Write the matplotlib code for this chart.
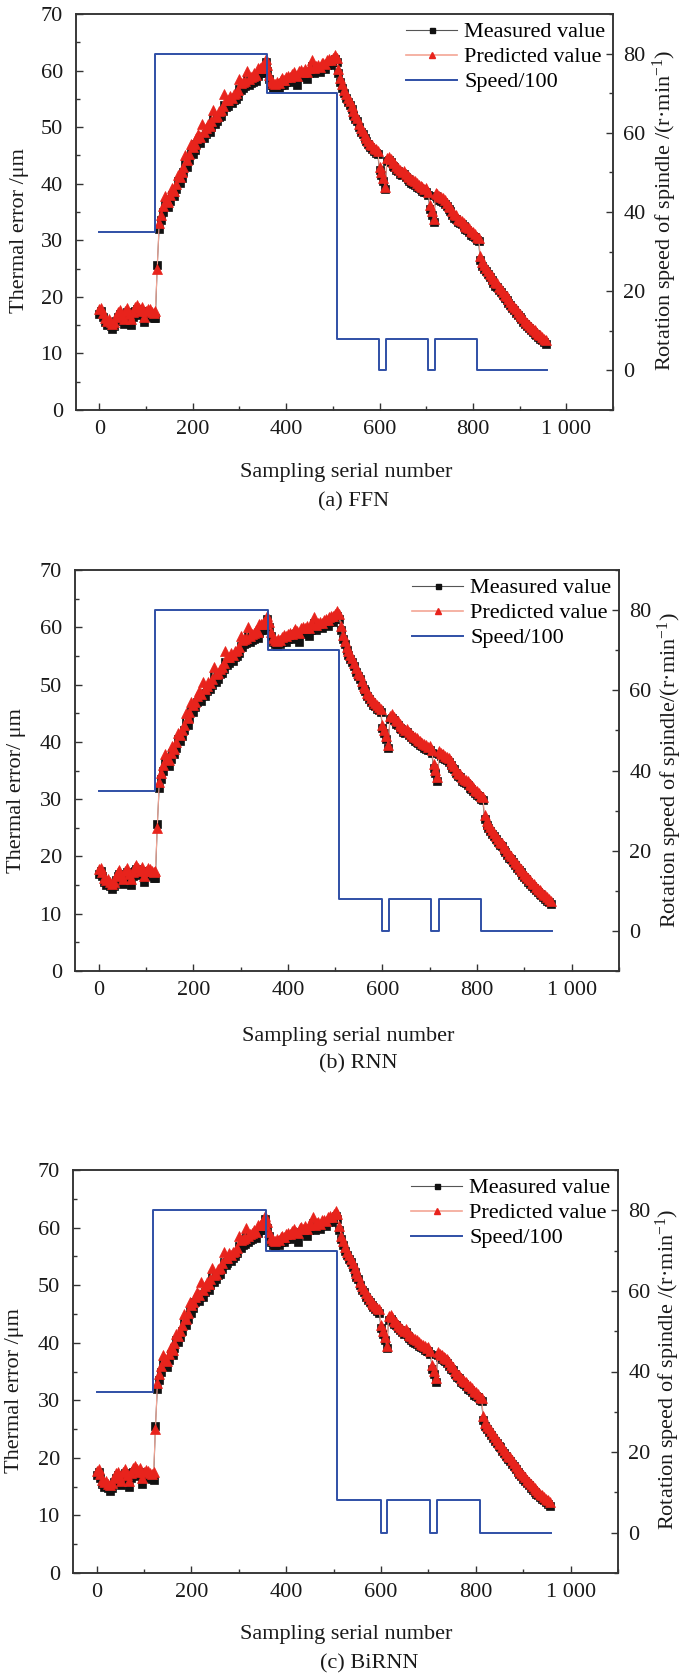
import numpy as np
import matplotlib
matplotlib.use('Agg')
import matplotlib.pyplot as plt
from matplotlib.ticker import MultipleLocator, FixedLocator
from matplotlib.lines import Line2D

plt.rcParams['font.family'] = ['Liberation Serif', 'DejaVu Serif']
plt.rcParams['mathtext.fontset'] = 'custom'
plt.rcParams['mathtext.rm'] = 'Liberation Serif'
plt.rcParams['mathtext.it'] = 'Liberation Serif:italic'
plt.rcParams['mathtext.bf'] = 'Liberation Serif:bold'

# ---------------- data ----------------
sample_no = list(range(0, 960, 4))

measured = [
    17.0, 17.5, 16.5, 15.5, 15.0, 15.2, 14.8, 14.3, 14.8, 15.8,
    16.5, 17.0, 16.0, 15.2, 16.8, 17.3, 16.2, 15.0, 16.5, 17.5,
    17.8, 17.2, 16.8, 17.5, 15.5, 16.8, 17.2, 17.0, 16.5, 16.3,
    16.2, 25.6, 32.0, 33.5, 35.0, 36.5, 36.0, 35.8, 37.0, 38.0,
    37.8, 39.0, 40.5, 40.2, 41.0, 42.0, 43.5, 43.0, 44.2, 45.5,
    45.2, 46.0, 47.0, 47.5, 47.2, 48.5, 48.0, 48.8, 49.5, 49.2,
    50.0, 51.5, 50.5, 51.0, 51.8, 52.0, 52.8, 54.0, 53.5, 53.8,
    54.5, 54.2, 54.8, 55.0, 55.5, 56.8, 56.5, 57.0, 57.2, 58.5,
    57.5, 57.8, 58.0, 58.5, 58.2, 59.0, 59.5, 59.8, 59.5, 61.5,
    60.0, 58.5, 57.5, 57.0, 56.8, 57.2, 57.0, 57.5, 57.8, 57.5,
    58.0, 58.2, 58.0, 58.5, 58.8, 58.3, 57.5, 59.0, 59.2, 58.8,
    59.3, 58.5, 59.6, 59.8, 60.8, 59.5, 60.0, 60.2, 59.8, 60.5,
    60.5, 60.3, 61.0, 61.2, 61.0, 61.5, 62.0, 61.5, 59.5, 58.0,
    57.0, 56.0, 55.2, 54.5, 54.0, 53.2, 52.2, 51.5, 51.0, 50.0,
    49.2, 48.8, 48.0, 47.5, 47.0, 46.5, 46.2, 45.8, 45.5, 45.2,
    42.5, 41.5, 40.5, 39.0, 44.0, 44.2, 43.8, 43.2, 43.0, 42.5,
    42.2, 41.8, 41.5, 41.8, 41.2, 40.8, 40.5, 40.2, 40.0, 39.8,
    39.5, 39.2, 39.0, 38.8, 38.5, 38.6, 38.0, 35.5, 34.5, 33.2,
    37.8, 37.5, 37.2, 37.0, 36.8, 36.5, 36.0, 35.5, 35.2, 34.5,
    34.0, 33.8, 33.2, 33.0, 32.8, 32.5, 32.0, 31.8, 31.5, 31.0,
    30.8, 30.5, 30.0, 29.8, 26.5, 25.5, 25.0, 24.5, 24.0, 23.5,
    23.0, 22.5, 22.0, 21.8, 21.2, 20.8, 20.3, 19.8, 19.5, 19.0,
    18.5, 18.0, 17.6, 17.2, 16.8, 16.4, 16.0, 15.6, 15.2, 14.8,
    14.5, 14.1, 13.8, 13.5, 13.2, 12.9, 12.6, 12.3, 12.0, 11.7,
]

predicted = [
    17.8, 18.0, 17.2, 16.2, 15.8, 16.0, 15.5, 15.2, 15.6, 16.5,
    17.3, 17.6, 16.8, 16.0, 17.5, 18.0, 17.0, 16.0, 17.3, 18.2,
    18.5, 18.0, 17.5, 18.2, 16.5, 17.5, 17.9, 17.8, 17.4, 17.2,
    17.5, 25.0, 33.0, 34.5, 36.0, 37.8, 37.2, 36.8, 38.0, 39.2,
    38.8, 40.0, 41.5, 41.2, 42.0, 43.0, 45.0, 44.2, 45.2, 47.0,
    46.5, 47.0, 48.0, 48.8, 48.3, 50.5, 49.2, 49.8, 50.5, 50.2,
    51.0, 53.0, 51.8, 52.0, 52.8, 53.0, 53.8, 55.8, 54.8, 54.8,
    55.5, 55.2, 55.8, 56.0, 56.5, 58.5, 57.8, 58.0, 58.2, 60.0,
    58.5, 58.8, 59.0, 59.5, 59.2, 60.5, 60.5, 60.8, 60.5, 62.0,
    61.0, 59.2, 58.2, 57.8, 57.6, 58.0, 57.8, 58.3, 58.6, 58.4,
    58.8, 59.0, 58.9, 59.4, 59.7, 59.3, 59.0, 59.9, 60.1, 59.8,
    60.2, 59.8, 60.5, 60.7, 61.8, 60.4, 60.8, 61.0, 60.7, 61.3,
    61.4, 61.2, 61.8, 62.0, 61.9, 62.3, 62.8, 62.3, 60.2, 58.6,
    57.6, 56.6, 55.8, 55.2, 54.6, 53.8, 52.9, 52.1, 51.6, 50.6,
    49.8, 49.4, 48.6, 48.1, 47.6, 47.1, 46.8, 46.4, 46.1, 45.8,
    43.0, 42.0, 41.0, 39.5, 44.6, 44.8, 44.4, 43.8, 43.6, 43.1,
    42.8, 42.4, 42.1, 42.3, 41.8, 41.4, 41.1, 40.8, 40.6, 40.4,
    40.1, 39.8, 39.6, 39.4, 39.1, 39.2, 38.6, 36.2, 35.1, 33.8,
    38.4, 38.1, 37.8, 37.6, 37.4, 37.1, 36.6, 36.1, 35.8, 35.1,
    34.6, 34.4, 33.8, 33.6, 33.4, 33.1, 32.6, 32.4, 32.1, 31.6,
    31.4, 31.1, 30.6, 30.4, 27.2, 26.1, 25.6, 25.1, 24.6, 24.1,
    23.6, 23.1, 22.6, 22.4, 21.8, 21.4, 20.9, 20.4, 20.1, 19.6,
    19.1, 18.6, 18.2, 17.8, 17.4, 17.0, 16.6, 16.2, 15.8, 15.4,
    15.1, 14.7, 14.4, 14.1, 13.8, 13.5, 13.2, 12.9, 12.6, 12.3,
]

speed_change_at = [0, 119, 358, 508, 599, 613, 703, 719, 808, 958]
speed_div100 = [35, 80, 70, 8, 0, 8, 0, 8, 0, 0]

x_ticks = [0, 200, 400, 600, 800, 1000]
x_tick_labels = ['0', '200', '400', '600', '800', '1 000']
left_ticks = [0, 10, 20, 30, 40, 50, 60, 70]
right_ticks = [0, 20, 40, 60, 80]

captions = ['(a) FFN', '(b) RNN', '(c) BiRNN']
ylabels = ['Thermal error /\u03bcm', 'Thermal error/ \u03bcm', 'Thermal error /\u03bcm']
rlabels = ['Rotation speed of spindle /(r\u00b7min$^{-1}$)',
           'Rotation speed of spindle/(r\u00b7min$^{-1}$)',
           'Rotation speed of spindle /(r\u00b7min$^{-1}$)']

# ---------------- layout (pixels) ----------------
W, H = 685, 1675
layout = [
    dict(box=(76, 613, 14, 410), xl=(346, 472), cap=(354, 502), yl=(20, 231), rl=(665, 210)),
    dict(box=(75, 619, 570, 971), xl=(348, 1036), cap=(358, 1064), yl=(17, 791), rl=(670, 770)),
    dict(box=(73, 618, 1170, 1573), xl=(346, 1634), cap=(369, 1664), yl=(15, 1391), rl=(668, 1369)),
]

FS = 16
SPINE = '#333333'
TXT = '#1a1a1a'
BLUE = '#2f4fa6'
RED = '#e8231c'
PINK = '#f4a595'

fig = plt.figure(figsize=(W / 100, H / 100), dpi=100)

for i, L in enumerate(layout):
    l, r, t, b = L['box']
    ax = fig.add_axes([l / W, 1 - b / H, (r - l) / W, (b - t) / H])
    ax2 = ax.twinx()

    ax.plot(sample_no, measured, color='#555555', lw=0.8, marker='s', ms=5.6,
            mfc='#111111', mec='#111111', mew=0.5, label='Measured value', zorder=2)
    ax.plot(sample_no, predicted, color=PINK, lw=0.8, marker='^', ms=6.6,
            mfc=RED, mec=RED, mew=0.5, label='Predicted value', zorder=3)
    ax2.plot(speed_change_at, speed_div100, drawstyle='steps-post', color=BLUE,
             lw=1.4, label='Speed/100')

    ax.set_xlim(-50, 1100)
    ax.set_ylim(0, 70)
    ax2.set_ylim(-10, 90)

    ax.xaxis.set_major_locator(FixedLocator(x_ticks))
    ax.set_xticklabels(x_tick_labels)
    ax.xaxis.set_minor_locator(MultipleLocator(100))
    ax.yaxis.set_major_locator(FixedLocator(left_ticks))
    ax.yaxis.set_minor_locator(MultipleLocator(5))
    ax2.yaxis.set_major_locator(FixedLocator(right_ticks))
    ax2.yaxis.set_minor_locator(MultipleLocator(10))

    for a in (ax, ax2):
        for s in a.spines.values():
            s.set_color(SPINE)
            s.set_linewidth(1.1)
        a.tick_params(which='both', direction='in', colors=SPINE, labelcolor=TXT,
                      labelsize=FS, width=1.0)
        a.tick_params(which='major', length=5)
        a.tick_params(which='minor', length=3)
    ax.tick_params(axis='x', which='both', top=False, pad=7.5)
    ax.tick_params(axis='y', which='both', right=False, pad=9.5)
    ax2.tick_params(axis='y', which='both', pad=7.5)

    handles = [
        Line2D([], [], color='#555555', lw=0.8, marker='s', ms=3.6, mfc='#111111', mec='#111111'),
        Line2D([], [], color=PINK, lw=1.2, marker='^', ms=4.2, mfc=RED, mec=RED),
        Line2D([], [], color=BLUE, lw=1.4),
    ]
    ax2.legend(handles, ['Measured value', 'Predicted value', 'Speed/100'],
               loc='upper right', frameon=False, fontsize=FS, handlelength=2.3,
               handletextpad=0.3, labelspacing=0.2, borderaxespad=0.1, borderpad=0.25)

    fig.text(L['xl'][0] / W, 1 - L['xl'][1] / H, 'Sampling serial number',
             ha='center', va='center', fontsize=FS, color=TXT)
    fig.text(L['cap'][0] / W, 1 - L['cap'][1] / H, captions[i],
             ha='center', va='center', fontsize=FS, color=TXT)
    fig.text(L['yl'][0] / W, 1 - L['yl'][1] / H, ylabels[i], rotation=90,
             ha='center', va='center', fontsize=FS, color=TXT)
    fig.text(L['rl'][0] / W, 1 - L['rl'][1] / H, rlabels[i], rotation=90,
             ha='center', va='center', fontsize=FS, color=TXT)

fig.savefig('out.png', dpi=100, facecolor='white')
